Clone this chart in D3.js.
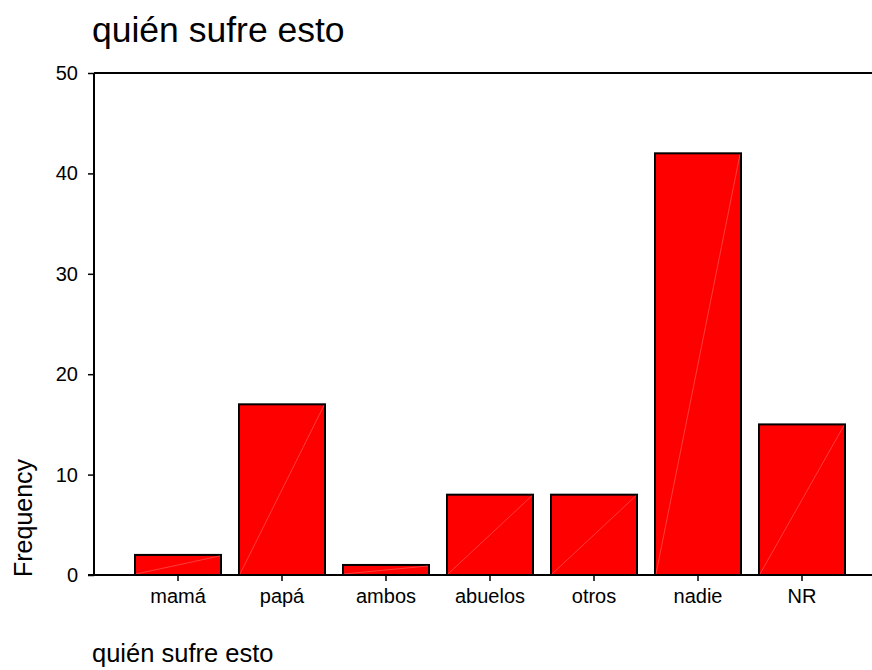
<!DOCTYPE html>
<html><head><meta charset="utf-8">
<script src="https://cdn.jsdelivr.net/npm/d3@7"></script>
<style>body{margin:0;background:#fff}svg{display:block;font-family:"Liberation Sans",Arial,sans-serif}</style>
</head><body>
<svg id="c" width="872" height="670"></svg>
<script>
const categories = ["mamá","papá","ambos","abuelos","otros","nadie","NR"];
const frequencies = [2,17,1,8,8,42,15];
const yTicks = [0,10,20,30,40,50];

const svg = d3.select("#c");
const x = d3.scaleBand().domain(categories).range([135,845]).paddingInner(0.173).paddingOuter(0);
const y = d3.scaleLinear().domain([0,50]).range([575,73]);
const FF = "Liberation Sans, Arial, sans-serif";

svg.append("text").attr("x",92).attr("y",42).attr("font-size",35.5).attr("font-family",FF).attr("fill","#000").text("quién sufre esto");

// bars
const g = svg.append("g");
categories.forEach((c,i)=>{
  const x0 = x(c), w = x.bandwidth(), y0 = y(frequencies[i]), y1 = y(0);
  g.append("rect").attr("x",x0).attr("y",y0).attr("width",w).attr("height",y1-y0)
    .attr("fill","#ff0000").attr("stroke","#000").attr("stroke-width",2);
  g.append("line").attr("x1",x0+1).attr("y1",y1-1).attr("x2",x0+w-1).attr("y2",y0+1)
    .attr("stroke","#ff7878").attr("stroke-width",0.5);
});

// top frame line
svg.append("line").attr("x1",94).attr("x2",872).attr("y1",y(50)).attr("y2",y(50)).attr("stroke","#000").attr("stroke-width",2);

// y axis
const ya = svg.append("g").attr("transform","translate(94,0)")
  .call(d3.axisLeft(y).tickValues(yTicks).tickSize(6).tickPadding(10).tickFormat(d3.format("d")));
ya.select(".domain").attr("stroke","#000").attr("stroke-width",2).attr("d","M0,"+y(50)+"V"+y(0));
ya.selectAll(".tick line").attr("stroke","#000").attr("stroke-width",1.5);
ya.selectAll(".tick text").attr("font-size",20).attr("fill","#000").attr("font-family",FF);

// x axis
const xa = svg.append("g").attr("transform","translate(0,575)")
  .call(d3.axisBottom(x).tickSize(6).tickPadding(8));
xa.select(".domain").attr("stroke","#000").attr("stroke-width",2).attr("d","M88,0H872");
xa.selectAll(".tick line").attr("stroke","#000").attr("stroke-width",1.5);
xa.selectAll(".tick text").attr("font-size",20).attr("fill","#000").attr("font-family",FF);

// axis titles
svg.append("text").attr("transform","translate(32,577) rotate(-90)").attr("font-size",25).attr("font-family",FF).attr("fill","#000").text("Frequency");
svg.append("text").attr("x",92).attr("y",662).attr("font-size",25.5).attr("font-family",FF).attr("fill","#000").text("quién sufre esto");
</script>
</body></html>
